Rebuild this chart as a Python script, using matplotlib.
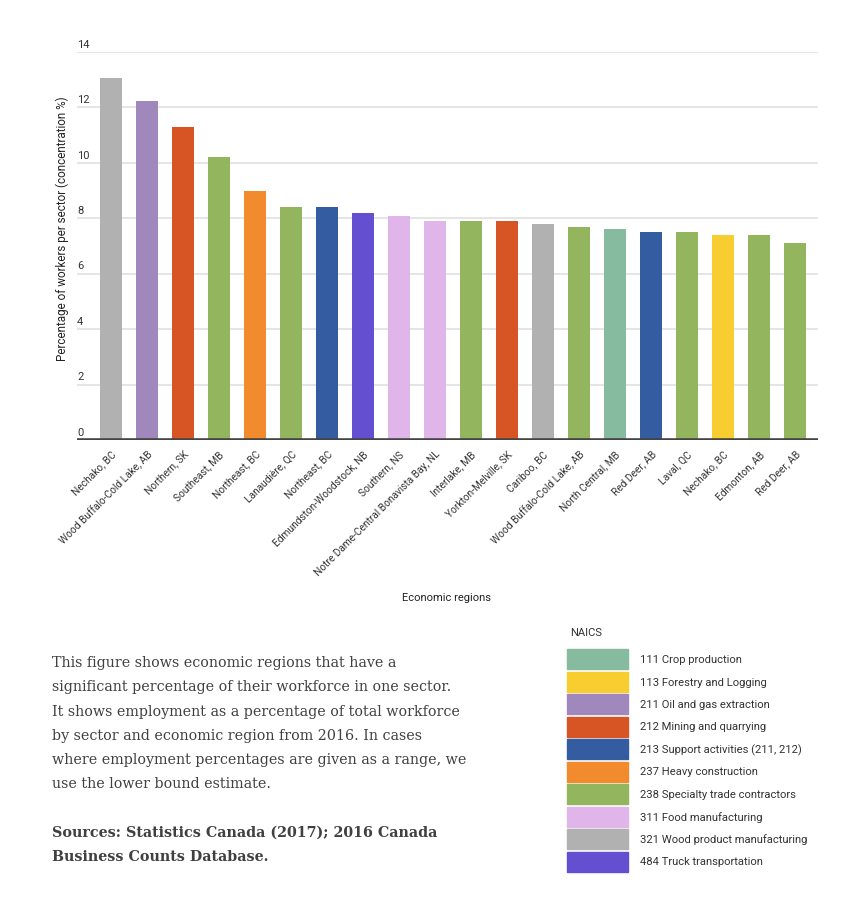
import matplotlib.pyplot as plt
from matplotlib.patches import Rectangle

plt.rcParams["font.family"] = ["Roboto", "DejaVu Sans"]

regions = ["Nechako, BC", "Wood Buffalo-Cold Lake, AB", "Northern, SK", "Southeast, MB",
           "Northeast, BC", "Lanaudière, QC", "Northeast, BC", "Edmundston-Woodstock, NB",
           "Southern, NS", "Notre Dame-Central Bonavista Bay, NL", "Interlake, MB",
           "Yorkton-Melville, SK", "Cariboo, BC", "Wood Buffalo-Cold Lake, AB",
           "North Central, MB", "Red Deer, AB", "Laval, QC", "Nechako, BC",
           "Edmonton, AB", "Red Deer, AB"]
values = [13.05, 12.25, 11.3, 10.2, 9.0, 8.4, 8.4, 8.2, 8.1, 7.9, 7.9,
          7.9, 7.8, 7.7, 7.6, 7.5, 7.5, 7.4, 7.4, 7.1]
sectors = ["321", "211", "212", "238", "237", "238", "213", "484", "311", "311", "238",
           "212", "321", "238", "111", "213", "238", "113", "238", "238"]

naics_codes = ["111", "113", "211", "212", "213", "237", "238", "311", "321", "484"]
naics_names = ["Crop production", "Forestry and Logging", "Oil and gas extraction",
               "Mining and quarrying", "Support activities (211, 212)", "Heavy construction",
               "Specialty trade contractors", "Food manufacturing",
               "Wood product manufacturing", "Truck transportation"]
naics_colors = ["#87bb9f", "#f7cd2f", "#a088bd", "#d75424", "#345ca0", "#f28a2e",
                "#92b55e", "#e0b6ea", "#b1b1b1", "#634fd0"]
color_of = dict(zip(naics_codes, naics_colors))

fig = plt.figure(figsize=(8.51, 9.2), dpi=100)
W, H = 851, 920
ax = fig.add_axes([77 / W, 1 - 441 / H, (818 - 77) / W, (441 - 53) / H])

x = list(range(len(regions)))
ax.bar(x, values, width=0.61, color=[color_of[s] for s in sectors], zorder=2)
ax.set_xlim(-0.94, len(regions) - 1 + 0.64)
ax.set_ylim(0, 14)

for v in range(0, 15, 2):
    if v > 0:
        ax.axhline(v, color="#e0e0e0", lw=1.2, zorder=1)
    ax.text(0.0, v + 0.12, str(v), transform=ax.get_yaxis_transform(),
            ha="left", va="bottom", fontsize=8, color="#333333")
ax.axhline(0, color="#444444", lw=2.6, zorder=3)

ax.set_yticks([])
ax.set_xticks(x)
ax.set_xticklabels(regions, rotation=45, ha="right", rotation_mode="anchor",
                   fontsize=7.3, color="#333333")
ax.tick_params(axis="x", length=0, pad=6)
for sp in ax.spines.values():
    sp.set_visible(False)

fig.text(62 / W, 1 - 229 / H, "Percentage of workers per sector (concentration %)",
         rotation=90, ha="center", va="center", fontsize=8.4, color="#222222")
fig.text(447 / W, 1 - 598 / H, "Economic regions", ha="center", va="center",
         fontsize=8, color="#222222")

# legend
fig.text(570 / W, 1 - 633 / H, "NAICS", ha="left", va="center", fontsize=8, color="#333333")
for i, (code, name, col) in enumerate(zip(naics_codes, naics_names, naics_colors)):
    top = 650 + i * 22.5
    fig.patches.append(Rectangle((567 / W, 1 - (top + 20) / H), 61 / W, 20 / H,
                                 transform=fig.transFigure, color=col))
    fig.text(640 / W, 1 - (top + 10) / H, f"{code} {name}", ha="left", va="center",
             fontsize=8.1, color="#333333")

body_lines = ["This figure shows economic regions that have a",
              "significant percentage of their workforce in one sector.",
              "It shows employment as a percentage of total workforce",
              "by sector and economic region from 2016. In cases",
              "where employment percentages are given as a range, we",
              "use the lower bound estimate."]
source_lines = ["Sources: Statistics Canada (2017); 2016 Canada",
                "Business Counts Database."]
for i, line in enumerate(body_lines):
    fig.text(52 / W, 1 - (663 + i * 24.3) / H, line, ha="left", va="center",
             fontsize=10.3, family="DejaVu Serif", color="#404040")
for i, line in enumerate(source_lines):
    fig.text(52 / W, 1 - (833 + i * 24.3) / H, line, ha="left", va="center",
             fontsize=10.3, family="DejaVu Serif", weight="bold", color="#404040")

fig.savefig("out.png", dpi=100)
